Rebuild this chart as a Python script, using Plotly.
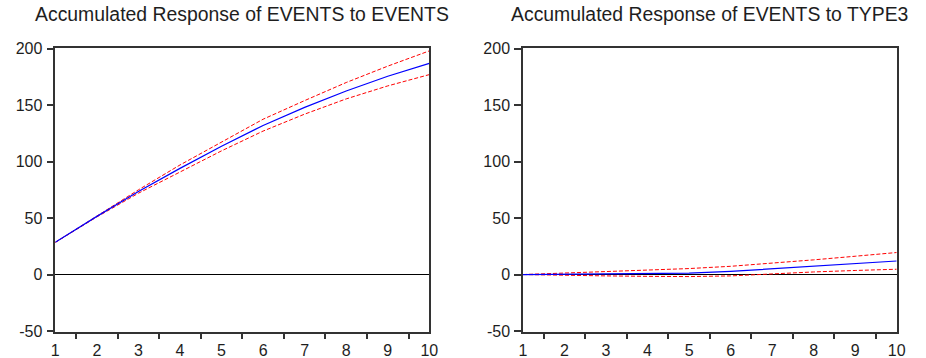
import plotly.graph_objects as go

periods = [1, 2, 3, 4, 5, 6, 7, 8, 9, 10]

# Accumulated response of EVENTS to EVENTS
ev_resp = [28.5, 51.5, 73.5, 94, 113.5, 132, 148, 162.5, 175.5, 187]
ev_upper = [28.5, 52, 75, 97, 117.5, 137.5, 154, 170, 184.5, 198]
ev_lower = [28.5, 51, 72, 91, 109.5, 127, 142, 155.5, 167, 177]

# Accumulated response of EVENTS to TYPE3
t3_resp = [0, 0.2, 0.3, 0.5, 1.2, 2.8, 5, 7.2, 9.6, 12]
t3_upper = [0, 1.2, 2.5, 4, 5.3, 7.3, 9.9, 13, 16.2, 19.5]
t3_lower = [0, -0.8, -1.2, -1.6, -1.8, -1.2, 0.8, 2.3, 3.6, 4.7]

titles = ["Accumulated Response of EVENTS to EVENTS",
          "Accumulated Response of EVENTS to TYPE3"]
y_ticks = [-50, 0, 50, 100, 150, 200]
y_tick_text = ["-50", "0", "50", "100", "150", "200"]
minor_ticks = [1.5, 2.5, 3.5, 4.5, 5.5, 6.5, 7.5, 8.5, 9.5]

W, H = 926, 358
x_doms = [[55.3 / W, 429.3 / W], [523 / W, 896.7 / W]]
y_dom = [1 - 331.7 / H, 1 - 47.5 / H]

fig = go.Figure()
panels = [(ev_resp, ev_upper, ev_lower), (t3_resp, t3_upper, t3_lower)]
for i, (resp, up, lo) in enumerate(panels):
    xa = "x" if i == 0 else "x2"
    ya = "y" if i == 0 else "y2"
    for band in (up, lo):
        fig.add_trace(go.Scatter(x=periods, y=band, mode="lines", xaxis=xa, yaxis=ya,
                                 line=dict(color="#ff0000", width=1, dash="4px,2px"),
                                 showlegend=False, hoverinfo="skip"))
    fig.add_trace(go.Scatter(x=periods, y=resp, mode="lines", xaxis=xa, yaxis=ya,
                             line=dict(color="#0000ff", width=1.2),
                             showlegend=False))

text_color = "#1e1e1e"
axis_common = dict(showline=True, linecolor="#333333", linewidth=1.5, mirror=True,
                   showgrid=False, automargin=False,
                   tickfont=dict(family="Liberation Sans, Arial", size=16, color=text_color))

for i in range(2):
    sfx = "" if i == 0 else "2"
    fig.update_layout(**{
        "xaxis" + sfx: dict(domain=x_doms[i], range=[1, 10], tickmode="array",
                            tickvals=periods, ticktext=[str(p) for p in periods],
                            ticks="", zeroline=False,
                            minor=dict(tickmode="array", tickvals=minor_ticks, ticks="outside",
                                       ticklen=6, tickwidth=1.5, tickcolor="#333333"),
                            anchor="y" + sfx, ticklabelstandoff=3, **axis_common),
        "yaxis" + sfx: dict(domain=y_dom, range=[-50.6, 201], tickmode="array",
                            tickvals=y_ticks, ticktext=y_tick_text,
                            ticks="outside", ticklen=7, tickwidth=1.5,
                            tickcolor="#333333", zeroline=True, zerolinecolor="#000000",
                            zerolinewidth=1.2, anchor="x" + sfx, ticklabelstandoff=1,
                            **axis_common),
    })
    fig.add_annotation(text=titles[i], xref="paper", yref="paper",
                       x=(x_doms[i][0] + x_doms[i][1]) / 2, y=1 - 13.5 / H,
                       xanchor="center", yanchor="middle", showarrow=False,
                       font=dict(family="Liberation Sans, Arial", size=19.4, color=text_color))

fig.update_layout(template="none", width=W, height=H, margin=dict(l=0, r=0, t=0, b=0),
                  paper_bgcolor="white", plot_bgcolor="white")

fig.write_html("out.html", config={"displayModeBar": False},
               post_script="document.body.style.margin='0px';document.body.style.overflow='hidden';")
